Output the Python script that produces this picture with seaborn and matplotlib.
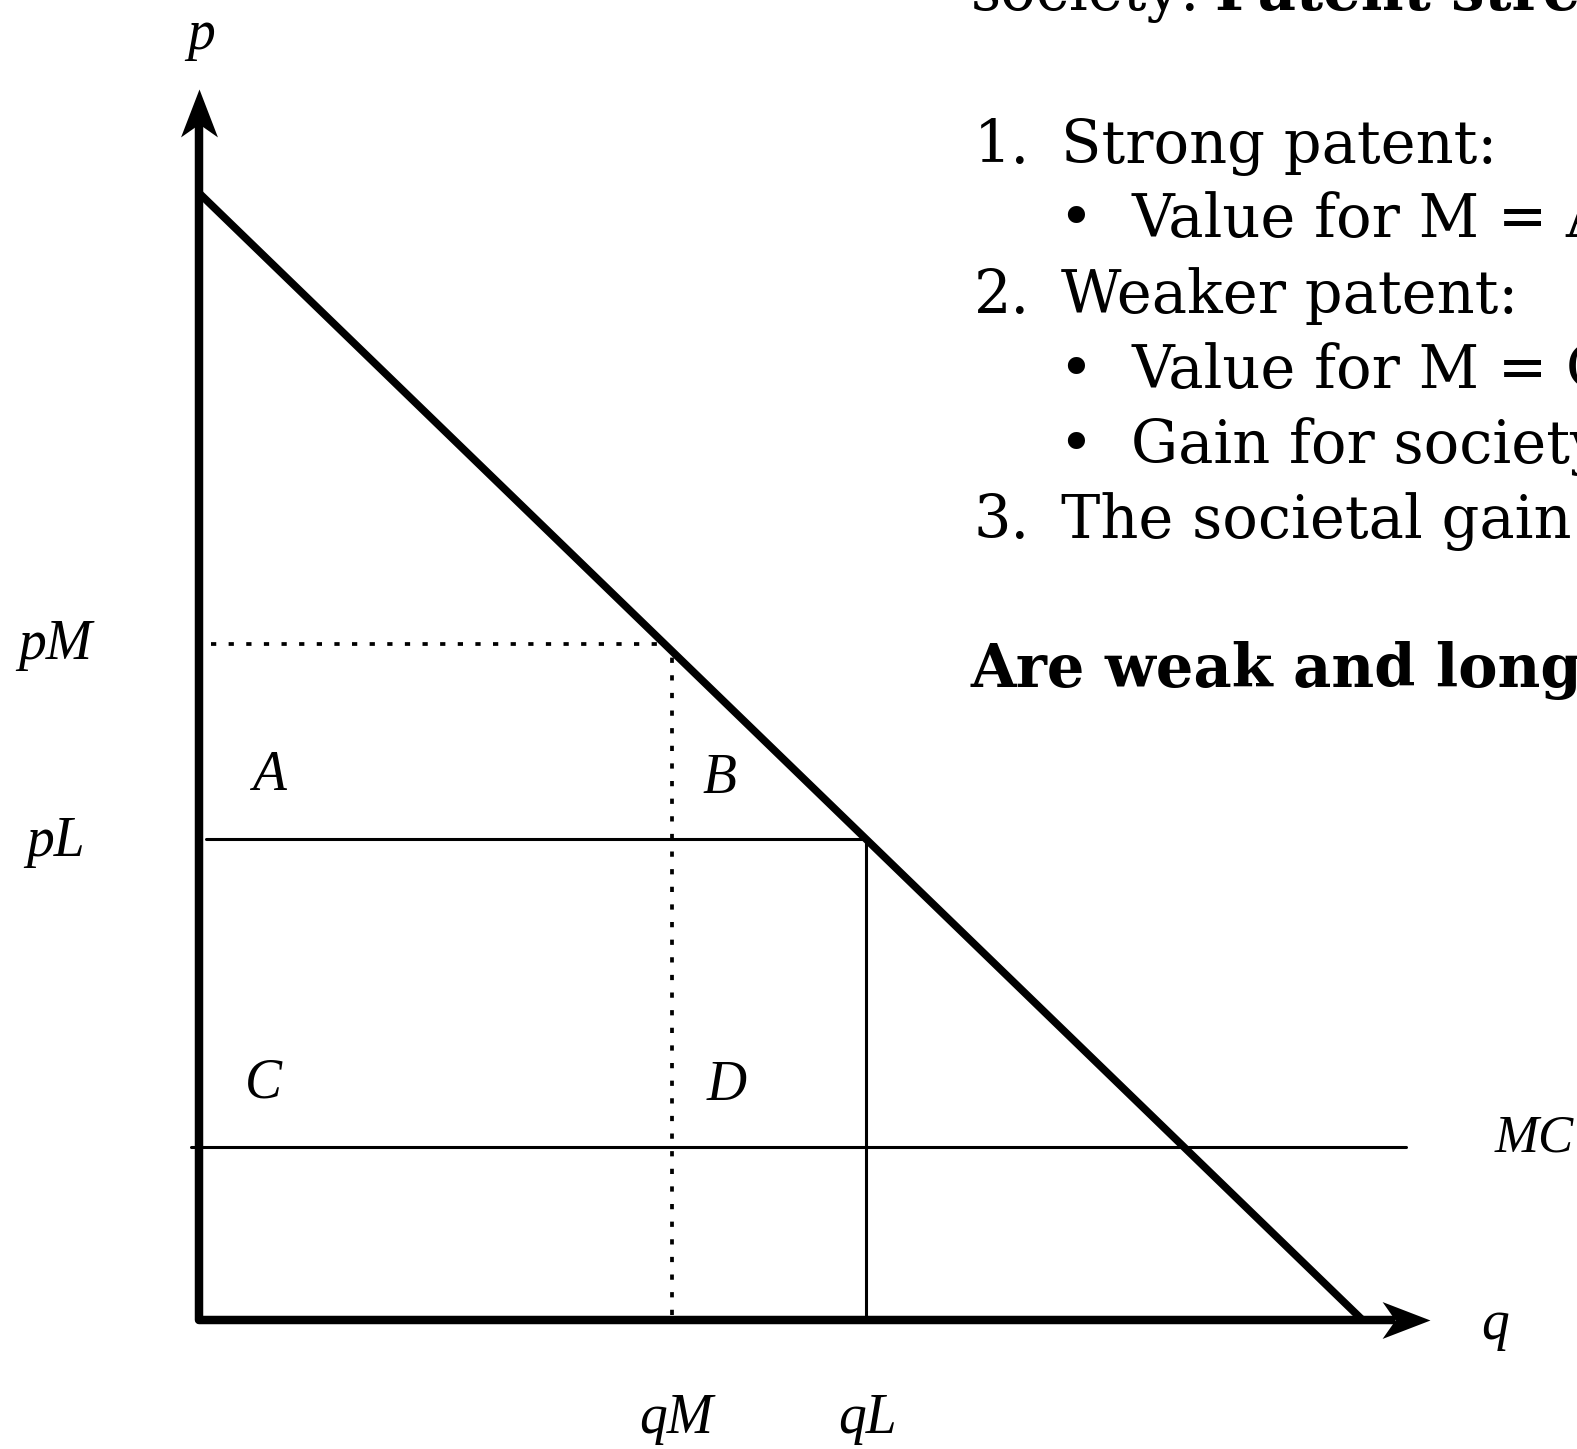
import matplotlib
matplotlib.use("Agg")
import matplotlib.pyplot as plt
from matplotlib.path import Path
import seaborn as sns
import pandas as pd

# --- diagram values (economic units, demand p = 10 - q) ---
demand_q = [0.0, 10.0]
demand_p = [10.0, 0.0]
q_mono, p_mono = 4.06, 6.0       # qM, pM
q_low, p_low = 5.73, 4.27        # qL, pL
mc_level = 1.54
mc_span = [-0.07, 10.37]
p_axis_top = 10.92
q_axis_end = 10.58

area_labels = ["A", "B", "C", "D"]

bullet_lines = [
    ("1.", "Strong patent:", False),
    ("•", "Value for M = A", True),
    ("2.", "Weaker patent:", False),
    ("•", "Value for M = C", True),
    ("•", "Gain for society", True),
    ("3.", "The societal gain", False),
]

W, H = 1568, 1441  # reference pixel frame used for layout

sns.set_theme(style="white")
plt.rcParams["font.family"] = ["DejaVu Serif", "DejaVu Sans"]
plt.rcParams["text.color"] = "black"

fig = plt.figure(figsize=(15.77, 14.49), dpi=100)
ax = fig.add_axes([0, 0, 1, 1])
ax.set_xlim(-1.711, 11.841)
ax.set_ylim(-1.142, 11.713)
ax.axis("off")

lab = dict(family="Liberation Serif", style="italic", fontsize=40, color="black")

# axes (one polyline so the corner joins) + notched arrow heads
ax.plot([0, 0, q_axis_end - 0.3], [p_axis_top - 0.3, 0, 0], color="black",
        lw=6.1, solid_joinstyle="round", solid_capstyle="butt")
head_right = Path([(0, 0), (-1, 0.385), (-0.73, 0), (-1, -0.385), (0, 0)],
                  [Path.MOVETO, Path.LINETO, Path.LINETO, Path.LINETO, Path.CLOSEPOLY])
head_up = Path([(0, 0), (0.385, -1), (0, -0.73), (-0.385, -1), (0, 0)],
               [Path.MOVETO, Path.LINETO, Path.LINETO, Path.LINETO, Path.CLOSEPOLY])
ax.plot([q_axis_end], [0], marker=head_right, markersize=69, color="black",
        markeredgewidth=0, linestyle="none")
ax.plot([0], [p_axis_top], marker=head_up, markersize=69, color="black",
        markeredgewidth=0, linestyle="none")

# demand curve
dem = pd.DataFrame({"q": demand_q, "p": demand_p})
sns.lineplot(data=dem, x="q", y="p", ax=ax, color="black", lw=5.5,
             solid_capstyle="butt")

# monopoly price / quantity (dotted)
dots = dict(color="black", lw=2.7, linestyle=(0, (1.4, 3.3)), dash_capstyle="butt")
ax.plot([0.1, q_mono - 0.07], [p_mono, p_mono], **dots)
ax.plot([q_mono, q_mono], [0.05, p_mono - 0.12], **dots)

# lower price / quantity
ax.plot([0.06, q_low], [p_low, p_low], color="black", lw=2.2)
ax.plot([q_low, q_low], [0, p_low], color="black", lw=2.2)

# marginal cost
ax.plot(mc_span, [mc_level, mc_level], color="black", lw=2.2)

# labels
ax.text(0.02, 11.4, "p", ha="center", va="center", **lab)
ax.text(-1.235, 5.99, "pM", ha="center", va="center", **lab)
ax.text(-1.235, 4.24, "pL", ha="center", va="center", **lab)
for name, (x, y) in zip(area_labels, [(0.6, 4.83), (4.47, 4.80), (0.55, 2.10), (4.53, 2.08)]):
    ax.text(x, y, name, ha="center", va="center", **lab)
ax.text(11.47, 1.61, "MC", ha="center", va="center", family="Liberation Serif",
        style="italic", fontsize=38, color="black")
ax.text(11.14, -0.04, "q", ha="center", va="center", **lab)
ax.text(4.10, -0.88, "qM", ha="center", va="center", **lab)
ax.text(5.74, -0.88, "qL", ha="center", va="center", **lab)

# slide text on the right (cut off by the frame)
fs = 42.5
def ftxt(px, py, s, **kw):
    fig.text(px / W, 1 - py / H, s, va="baseline", ha="left", fontsize=fs,
             family="DejaVu Serif", color="black", **kw)

ftxt(965, 10, "society:")
ftxt(1208, 10, "Patent strength", weight="bold")
baselines = [162, 236, 311, 386, 460, 535]
for (num, txt, sub), yb in zip(bullet_lines, baselines):
    if sub:
        ftxt(1052, yb, num)
        ftxt(1125, yb, txt)
    else:
        ftxt(968, yb, num)
        ftxt(1055, yb, txt)
ftxt(965, 683, "Are weak and long patents better?", weight="bold")

fig.savefig("out.png", dpi=100)
